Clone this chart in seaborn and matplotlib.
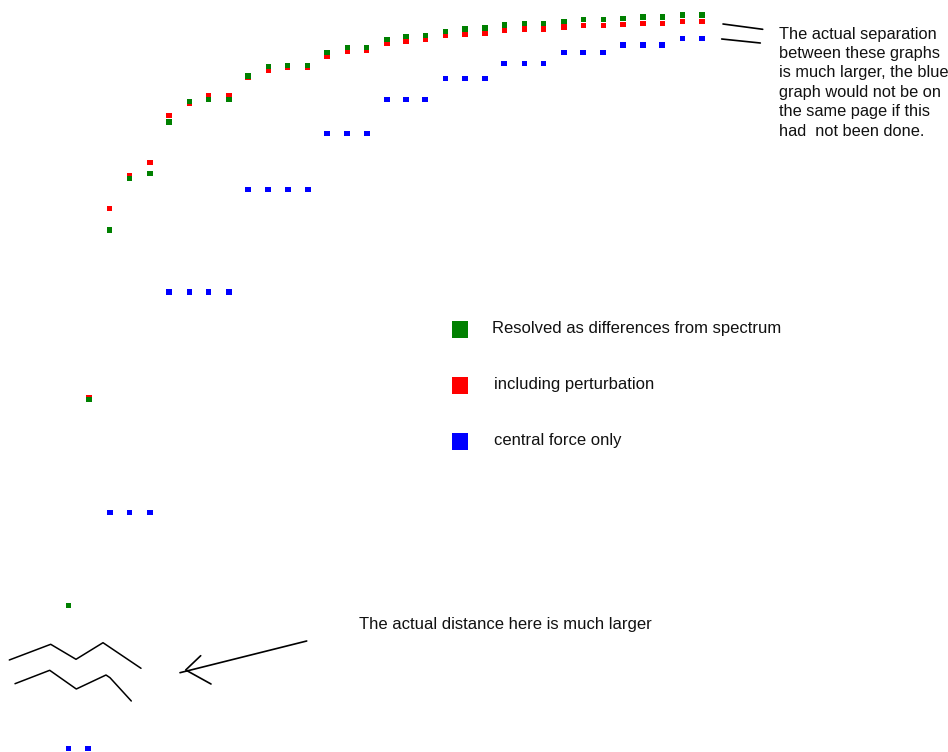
import matplotlib
matplotlib.use("Agg")
from matplotlib import pyplot as plt
from matplotlib.patches import Rectangle
import pandas as pd
import seaborn as sns

# positions (level columns across, energy down the page)
green_x = [68.7, 89, 109.3, 129.3, 150, 169, 189.3, 208.7, 229, 248, 268.3, 287.7, 307.7,
           327, 347.3, 366.7, 387, 406, 425.3, 445.7, 465, 485, 504.3, 524.7, 543.7,
           564, 583.3, 603.3, 623, 643, 662.3, 682.7, 702]
green_y = [605.7, 399.3, 230, 178.7, 173.3, 122, 101.7, 99.3, 99.3, 76, 66.7, 65.3, 65.3,
           52.7, 47.7, 47.3, 39.7, 36.7, 35.7, 31.3, 29, 28, 25, 23.7, 23.7,
           21.7, 19.3, 19.3, 18.3, 17, 17, 15, 15]

red_x = green_x[1:]
red_y = [397.5, 208.7, 175.7, 162.7, 115.7, 103.3, 96, 96, 77, 70, 67.5, 67,
         56, 51.7, 50, 43, 41, 39.7, 35.3, 34.3, 33.3, 30.3, 29, 29,
         27, 25.7, 25.7, 24.7, 23.7, 23.7, 21.7, 21.7]

blue_x = [68.7, 88, 110, 129.7, 150, 169, 189.3, 208.7, 229, 248, 268, 288, 308,
          327, 347, 367, 387, 406, 425, 445.7, 465, 485, 504, 524.7, 543.7,
          564, 583, 603, 623, 643, 662, 682.7, 702]
blue_y = [748.7, 748.7, 512.7, 512.7, 512.7, 292, 292, 292, 292, 189.3, 189.3, 189.3, 189.3,
          133.7, 133.7, 133.7, 99.3, 99.3, 99.3, 78.3, 78.3, 78.3, 63.3, 63.3, 63.3,
          52.7, 52.7, 52.7, 45, 45, 45, 38.7, 38.7]

series_labels = ["Resolved as differences from spectrum", "including perturbation", "central force only"]
series_colors = ["#008000", "#ff0000", "#0000ff"]

note_top = ["The actual separation", "between these graphs", "is much larger, the blue",
            "graph would not be on", "the same page if this", "had  not been done."]
note_bottom = "The actual distance here is much larger"

df = pd.concat([
    pd.DataFrame({"x": blue_x, "y": blue_y, "series": series_labels[2]}),
    pd.DataFrame({"x": red_x, "y": red_y, "series": series_labels[1]}),
    pd.DataFrame({"x": green_x, "y": green_y, "series": series_labels[0]}),
])

sns.set_style("white")
plt.rcParams["font.family"] = ["Liberation Sans", "DejaVu Sans"]

fig = plt.figure(figsize=(9.48, 7.52), dpi=100)
ax = fig.add_axes([0, 0, 1, 1])
sns.scatterplot(data=df, x="x", y="y", hue="series", hue_order=series_labels[::-1],
                palette=series_colors[::-1], marker="s", s=15, linewidth=0,
                legend=False, ax=ax)
ax.set_xlim(0, 948)
ax.set_ylim(752, 0)
ax.axis("off")

# legend keys drawn by hand, spaced as in the drawing
for i, (lab, col) in enumerate(zip(series_labels, series_colors)):
    yc = 329 + 56 * i
    ax.add_patch(Rectangle((452, yc - 8.5), 16, 17, color=col, lw=0))
    ax.text(492 if i == 0 else 494, yc, lab, fontsize=12, va="center", ha="left", color="#111111")

for j, line in enumerate(note_top):
    ax.text(779, 34 + 19.4 * j, line, fontsize=11.8, va="center", ha="left", color="#111111")
ax.text(359, 624, note_bottom, fontsize=12, va="center", ha="left", color="#111111")

# hand-drawn strokes
ax.plot([723, 762.7], [24, 29.3], color="black", lw=1.2)
ax.plot([721.7, 760.3], [39, 43], color="black", lw=1.2)
ax.plot([9.3, 50.7, 76, 103, 141], [660, 644.3, 659.3, 642.7, 668.3], color="black", lw=1.1)
ax.plot([15, 49.7, 76.3, 106, 110, 131.3], [683.7, 670.3, 689, 675, 677.7, 701], color="black", lw=1.1)
ax.plot([306.7, 180], [641, 672.7], color="black", lw=1.2)
ax.plot([200.7, 185.7, 211], [655.7, 670, 684], color="black", lw=1.2)

fig.savefig("out.png", dpi=100)
